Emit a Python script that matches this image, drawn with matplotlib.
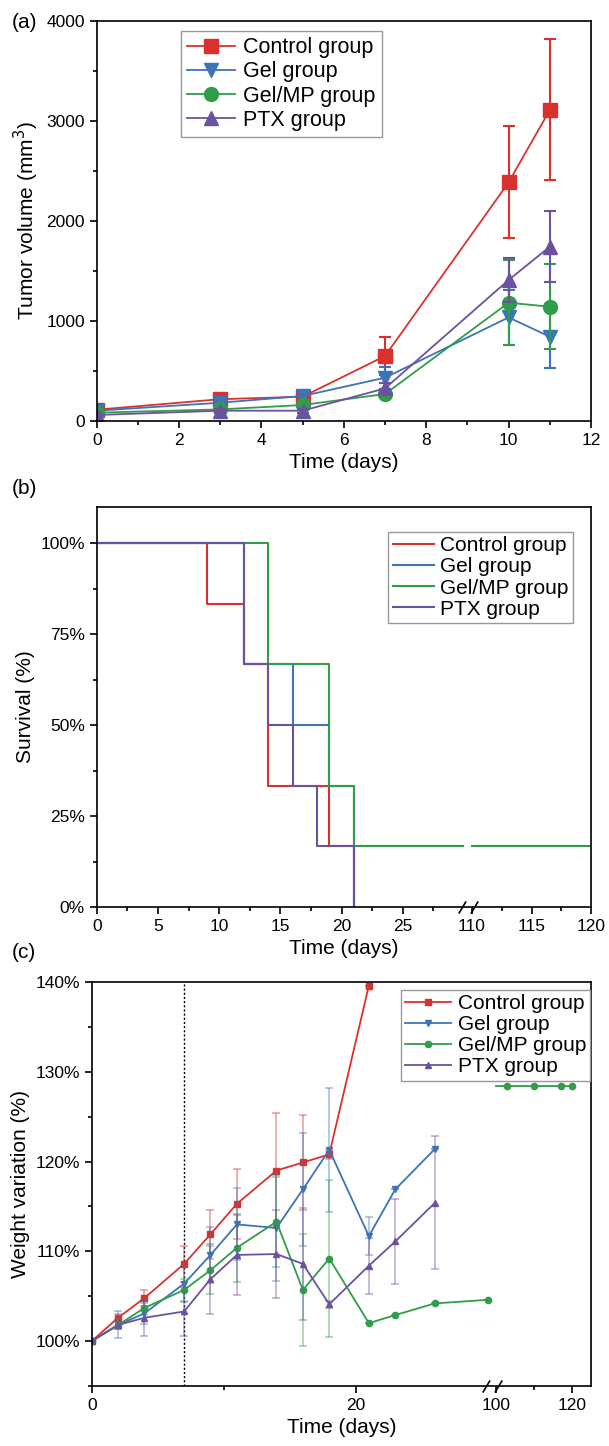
import numpy as np
import matplotlib.pyplot as plt
from matplotlib.path import Path
from matplotlib.ticker import FixedLocator, FuncFormatter, MultipleLocator
from matplotlib.transforms import blended_transform_factory

plt.rcParams['font.family'] = ['Liberation Sans', 'DejaVu Sans']
plt.rcParams['axes.linewidth'] = 1.2

groups = ["Control group", "Gel group", "Gel/MP group", "PTX group"]
colors = ["#d9322e", "#3b74b8", "#2f9d49", "#6b52a0"]

# (a) tumor volume (mm3)
days_a = [0, 3, 5, 7, 10, 11]
vol_control = [110, 215, 240, 647, 2383, 3107]
err_control = [25, 30, 65, 186, 560, 705]
vol_gel = [100, 180, 247, 430, 1033, 840]
err_gel = [20, 25, 40, 110, 277, 317]
vol_gelmp = [80, 113, 157, 267, 1180, 1140]
err_gelmp = [15, 20, 30, 40, 427, 423]
vol_ptx = [57, 100, 100, 323, 1407, 1740]
err_ptx = [15, 20, 20, 50, 216, 357]

# (b) survival (%), step points
t_control = [0, 9, 12, 14, 19, 21]
s_control = [100, 83.3, 66.7, 33.3, 16.7, 0]
t_gel = [0, 12, 16, 19, 21]
s_gel = [100, 66.7, 50, 33.3, 0]
t_gelmp = [0, 14, 19, 21, 29.9]
s_gelmp = [100, 66.7, 33.3, 16.7, 16.7]
t_gelmp_late = [110, 120]
s_gelmp_late = [16.7, 16.7]
t_ptx = [0, 12, 14, 16, 18, 21]
s_ptx = [100, 66.7, 50, 33.3, 16.7, 0]

# (c) weight variation (%)
days_control_c = [0, 2, 4, 7, 9, 11, 14, 16, 18, 21]
w_control = [100, 102.6, 104.8, 108.6, 111.9, 115.3, 119.0, 119.9, 120.8, 139.6]
e_control = [0, 0.4, 0.9, 2.0, 2.7, 3.9, 6.4, 5.3, 0.5, 0]
days_c = [0, 2, 4, 7, 9, 11, 14, 16, 18, 21, 23, 26]
w_gel = [100, 101.8, 103.1, 106.4, 109.6, 113.0, 112.6, 116.9, 121.3, 111.7, 116.9, 121.4]
e_gel = [0, 1.5, 1.2, 2.0, 3.1, 4.0, 5.9, 6.3, 6.9, 2.1, 0, 0]
days_gelmp_c = [0, 2, 4, 7, 9, 11, 14, 16, 18, 21, 23, 26, 30]
w_gelmp = [100, 101.8, 103.7, 105.7, 107.9, 110.4, 113.3, 105.7, 109.2, 102.0, 102.9, 104.2, 104.6]
e_gelmp = [0, 0.5, 0.8, 1.2, 2.7, 3.8, 5.0, 6.2, 8.7, 0, 0, 0, 0]
days_gelmp_late = [100, 103, 110, 117, 120]
w_gelmp_late = [128.4, 128.4, 128.4, 128.4, 128.4]
w_ptx = [100, 101.8, 102.6, 103.3, 106.9, 109.6, 109.7, 108.6, 104.1, 108.4, 111.1, 115.4]
e_ptx = [0, 0.5, 2.0, 2.7, 3.9, 4.5, 4.9, 6.2, 0.4, 3.1, 4.7, 7.4]


# broken x axes as piecewise linear scales
def fwd_b(x):
    x = np.asarray(x, float)
    return np.where(x <= 30, x, np.where(x >= 110, 30.66 + (x - 110) * 0.972,
                                         30 + (x - 30) * 0.66 / 80))


def inv_b(y):
    y = np.asarray(y, float)
    return np.where(y <= 30, y, np.where(y >= 30.66, 110 + (y - 30.66) / 0.972,
                                         30 + (y - 30) * 80 / 0.66))


def fwd_c(x):
    x = np.asarray(x, float)
    return np.where(x <= 30, x, np.where(x >= 100, 30.63 + (x - 100) * 0.288,
                                         30 + (x - 30) * 0.63 / 70))


def inv_c(y):
    y = np.asarray(y, float)
    return np.where(y <= 30, y, np.where(y >= 30.63, 100 + (y - 30.63) / 0.288,
                                         30 + (y - 30) * 70 / 0.63))


def style_axes(ax):
    ax.tick_params(which='major', direction='out', length=5, width=1.2, labelsize=12.5)
    ax.tick_params(which='minor', direction='out', length=3, width=1.2)
    ax.tick_params(top=False, right=False, which='both')


def break_mark(ax, xpos):
    verts = [(-1.6, -1), (-0.4, 1), (0.4, -1), (1.6, 1)]
    codes = [Path.MOVETO, Path.LINETO, Path.MOVETO, Path.LINETO]
    trans = blended_transform_factory(ax.transData, ax.transAxes)
    ax.plot([xpos], [0], transform=trans, marker=Path(verts, codes), markersize=14,
            mew=1.2, color='k', linestyle='none', clip_on=False, zorder=5)


fig = plt.figure(figsize=(6.09, 14.46), dpi=100)
W, H = 609, 1446
ax1 = fig.add_axes([96.7 / W, 1 - 420.7 / H, (591 - 96.7) / W, 400 / H])
ax2 = fig.add_axes([96.7 / W, 1 - 907 / H, (591 - 96.7) / W, 400 / H])
ax3 = fig.add_axes([91.7 / W, 1 - 1386 / H, (591 - 91.7) / W, 404 / H])

# ---- (a)
markers = ['s', 'v', 'o', '^']
vols = [vol_control, vol_gel, vol_gelmp, vol_ptx]
errs = [err_control, err_gel, err_gelmp, err_ptx]
for name, c, m, v, e in zip(groups, colors, markers, vols, errs):
    ax1.errorbar(days_a, v, yerr=e, fmt='none', ecolor=c, elinewidth=1.5,
                 capsize=4, capthick=1.5)
    ax1.plot(days_a, v, color=c, marker=m, markersize=10, lw=1.3, label=name)
ax1.set_xlim(0, 12)
ax1.set_ylim(0, 4000)
ax1.xaxis.set_major_locator(MultipleLocator(2))
ax1.xaxis.set_minor_locator(MultipleLocator(1))
ax1.yaxis.set_major_locator(MultipleLocator(1000))
ax1.yaxis.set_minor_locator(MultipleLocator(500))
style_axes(ax1)
ax1.set_xlabel("Time (days)", fontsize=15)
ax1.set_ylabel("Tumor volume (mm$^3$)", fontsize=15)
ax1.legend(loc='upper left', bbox_to_anchor=(0.17, 0.975), borderaxespad=0,
           fontsize=15.5, handlelength=2.2, handletextpad=0.4, labelspacing=0.15,
           fancybox=False, edgecolor='#999999', framealpha=1, borderpad=0.3)

# ---- (b)
ax2.set_xscale('function', functions=(fwd_b, inv_b))
surv = [(t_control, s_control), (t_gel, s_gel), (t_gelmp, s_gelmp), (t_ptx, s_ptx)]
for name, c, (t, s) in zip(groups, colors, surv):
    ax2.plot(t, s, drawstyle='steps-post', color=c, lw=1.5, label=name)
ax2.plot(t_gelmp_late, s_gelmp_late, color=colors[2], lw=1.5)
ax2.set_xlim(0, 120)
ax2.set_ylim(0, 110)
ax2.xaxis.set_major_locator(FixedLocator([0, 5, 10, 15, 20, 25, 110, 115, 120]))
ax2.xaxis.set_minor_locator(FixedLocator([2.5, 7.5, 12.5, 17.5, 22.5, 27.5, 112.5, 117.5]))
ax2.xaxis.set_major_formatter(FuncFormatter(lambda v, p: f"{v:g}"))
ax2.xaxis.set_minor_formatter(FuncFormatter(lambda v, p: ""))
ax2.yaxis.set_major_locator(FixedLocator([0, 25, 50, 75, 100]))
ax2.yaxis.set_minor_locator(FixedLocator([12.5, 37.5, 62.5, 87.5]))
ax2.yaxis.set_major_formatter(FuncFormatter(lambda v, p: f"{v:g}%"))
style_axes(ax2)
break_mark(ax2, 70)
ax2.set_xlabel("Time (days)", fontsize=15)
ax2.set_ylabel("Survival (%)", fontsize=15)
ax2.legend(loc='upper left', bbox_to_anchor=(0.59, 0.937), borderaxespad=0,
           fontsize=15, handlelength=2.0, handletextpad=0.3, labelspacing=0.1,
           fancybox=False, edgecolor='#999999', framealpha=1, borderpad=0.2)

# ---- (c)
ax3.set_xscale('function', functions=(fwd_c, inv_c))
series_c = [(days_control_c, w_control, e_control, 's'),
            (days_c, w_gel, e_gel, 'v'),
            (days_gelmp_c, w_gelmp, e_gelmp, 'o'),
            (days_c, w_ptx, e_ptx, '^')]
for name, c, (d, w, e, m) in zip(groups, colors, series_c):
    ax3.errorbar(d, w, yerr=e, fmt='none', ecolor=c, alpha=0.45, elinewidth=1.2,
                 capsize=3, capthick=1.2)
    ax3.plot(d, w, color=c, marker=m, markersize=4.5, lw=1.3, label=name)
ax3.plot(days_gelmp_late, w_gelmp_late, color=colors[2], marker='o', markersize=4.5,
         lw=1.3, markevery=[1, 2, 3, 4])
ax3.axvline(7, color='k', lw=1, ls=(0, (1.5, 1.5)), zorder=0)
ax3.set_xlim(0, 125)
ax3.set_ylim(95, 140)
ax3.xaxis.set_major_locator(FixedLocator([0, 20, 100, 120]))
ax3.xaxis.set_minor_locator(FixedLocator([10, 110]))
ax3.xaxis.set_major_formatter(FuncFormatter(lambda v, p: f"{v:g}"))
ax3.xaxis.set_minor_formatter(FuncFormatter(lambda v, p: ""))
ax3.yaxis.set_major_locator(FixedLocator([100, 110, 120, 130, 140]))
ax3.yaxis.set_minor_locator(FixedLocator([95, 105, 115, 125, 135]))
ax3.yaxis.set_major_formatter(FuncFormatter(lambda v, p: f"{v:g}%"))
style_axes(ax3)
break_mark(ax3, 65)
ax3.set_xlabel("Time (days)", fontsize=15)
ax3.set_ylabel("Weight variation (%)", fontsize=15)
ax3.legend(loc='upper left', bbox_to_anchor=(0.62, 0.98), borderaxespad=0,
           fontsize=15, handlelength=2.2, handletextpad=0.3, labelspacing=0.1,
           fancybox=False, edgecolor='#999999', framealpha=1, borderpad=0.2)

fig.text(12 / W, 1 - 23 / H, "(a)", fontsize=15, va='center')
fig.text(12 / W, 1 - 488 / H, "(b)", fontsize=15, va='center')
fig.text(12 / W, 1 - 953 / H, "(c)", fontsize=15, va='center')

fig.savefig("out.png", dpi=100)
